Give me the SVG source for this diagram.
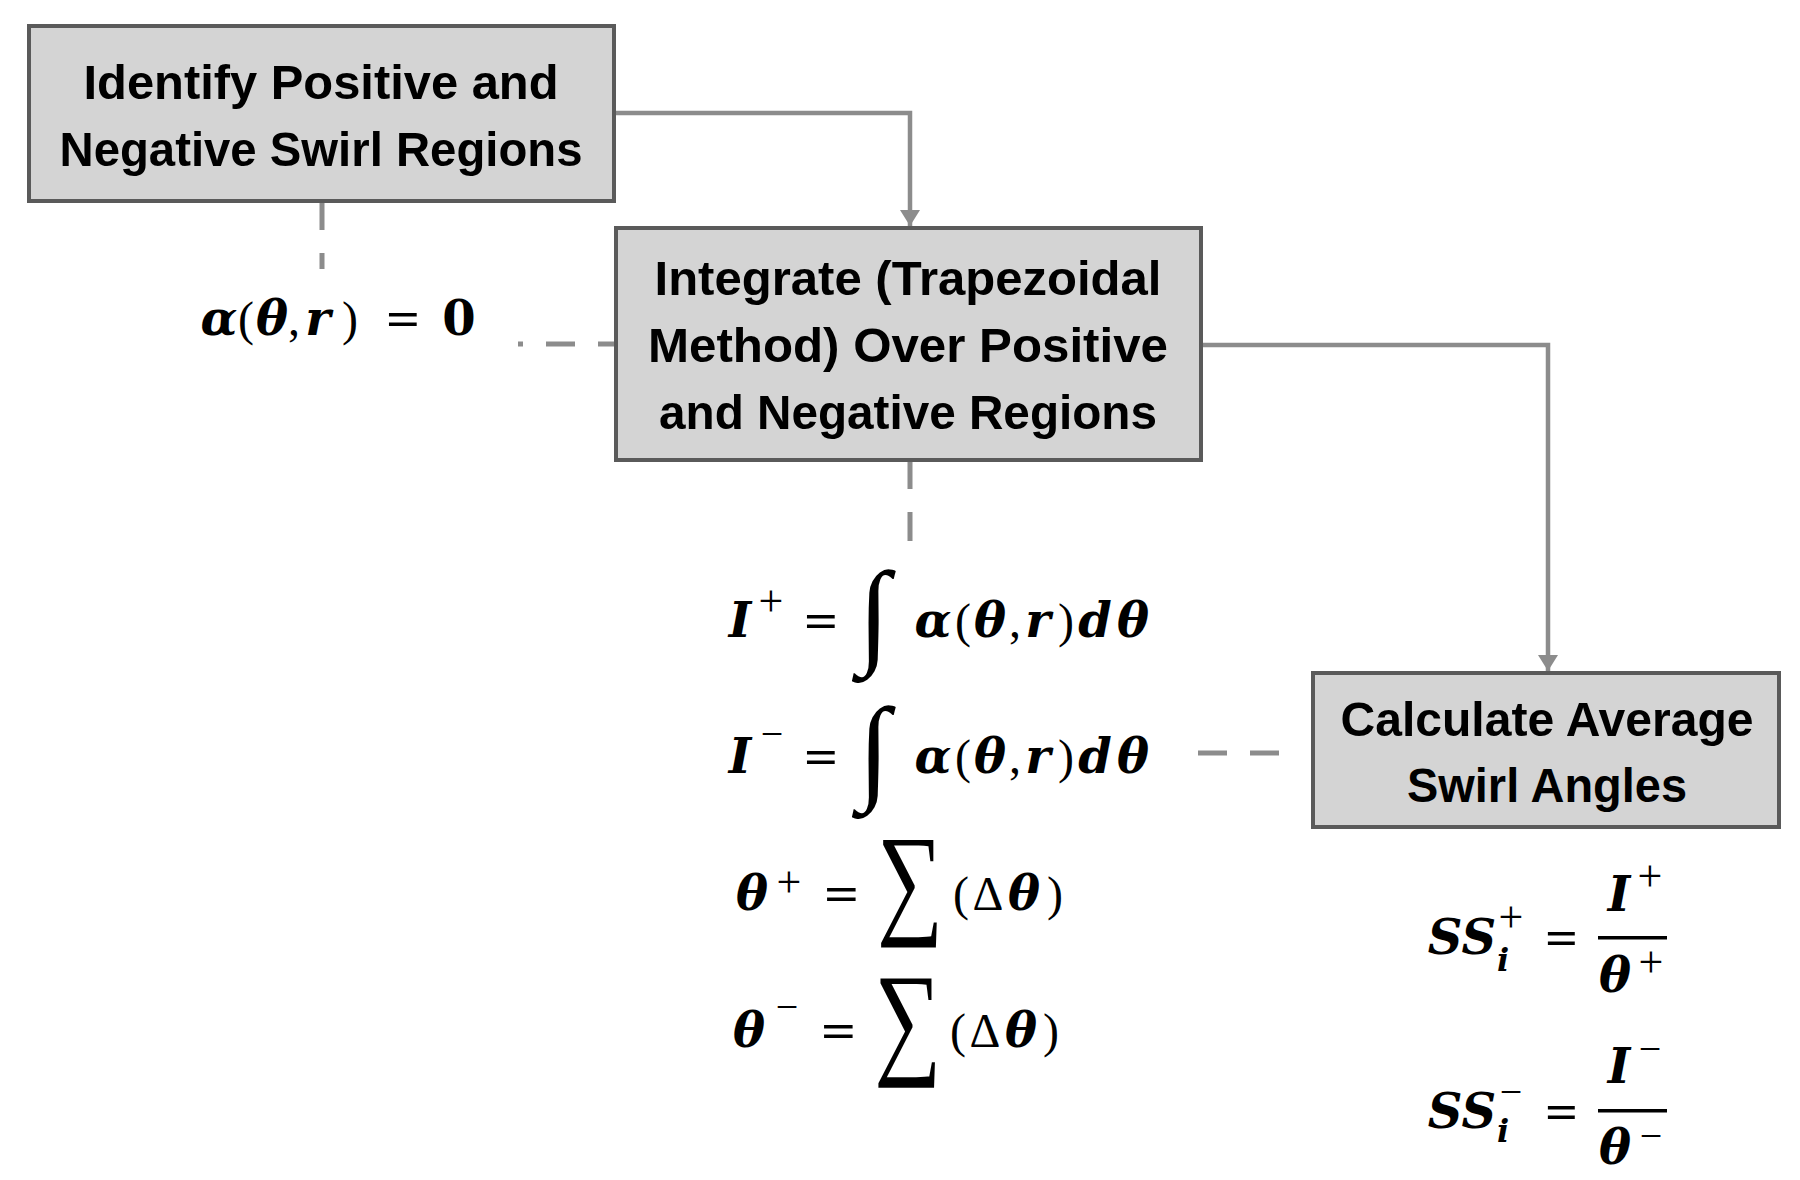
<svg xmlns="http://www.w3.org/2000/svg" width="1800" height="1180" viewBox="0 0 1800 1180">
<defs>
<style>
.box{fill:#d4d4d4;stroke:#5a5a5a;stroke-width:4}
.lbl{font-family:"Liberation Sans Narrow","Liberation Sans",Arial,sans-serif;font-weight:bold;font-size:49px;fill:#000;text-anchor:middle}
.conn{stroke:#8c8c8c;stroke-width:4.5;fill:none}
.dash{stroke:#8c8c8c;stroke-width:5;fill:none;stroke-dasharray:29 23}
.m{font-family:"DejaVu Serif","Liberation Serif",serif;font-weight:bold;font-style:italic;font-size:48px;fill:#000;text-anchor:middle}
.r{font-family:"Liberation Serif","DejaVu Serif",serif;font-style:normal;font-weight:normal}
.b{font-family:"DejaVu Serif","Liberation Serif",serif;font-style:normal;font-weight:bold}
.sp{font-family:"Liberation Serif","DejaVu Serif",serif;font-style:normal;font-weight:normal;font-size:44px}
.sm{font-family:"Liberation Serif","DejaVu Serif",serif;font-style:normal;font-weight:normal;font-size:40px}
.sub{font-size:32px}
.op{font-family:"Liberation Serif","DejaVu Serif",serif;font-style:normal;font-weight:normal;fill:#000}
.eq{font-family:"Liberation Serif","DejaVu Serif",serif;font-style:normal;font-weight:bold;fill:#000;font-size:48px}
</style>
<marker id="ah" viewBox="0 0 16 20" refX="16" refY="10" markerWidth="16" markerHeight="20" markerUnits="userSpaceOnUse" orient="auto">
<path d="M0,0 L16,10 L0,20 z" fill="#8c8c8c"/>
</marker>
</defs>
<rect width="1800" height="1180" fill="#fff"/>

<g id="connectors">
<path class="conn" d="M614,113 H910 V226" marker-end="url(#ah)"/>
<path class="conn" d="M1201,345 H1548 V671" marker-end="url(#ah)"/>
<path class="dash" d="M322,201 V269"/>
<path class="dash" d="M616,344 H518" style="stroke-dashoffset:11"/>
<path class="dash" d="M910,460 V542"/>
<path class="dash" d="M1198,753 H1281"/>
</g>

<g id="node-identify">
<rect class="box" x="29" y="26" width="585" height="175"/>
<text class="lbl" x="321" y="99" textLength="475" lengthAdjust="spacingAndGlyphs">Identify Positive and</text>
<text class="lbl" x="321" y="166" textLength="523" lengthAdjust="spacingAndGlyphs">Negative Swirl Regions</text>
</g>

<g id="node-integrate">
<rect class="box" x="616" y="228" width="585" height="232"/>
<text class="lbl" x="908" y="295" textLength="507" lengthAdjust="spacingAndGlyphs">Integrate (Trapezoidal</text>
<text class="lbl" x="908" y="362" textLength="520" lengthAdjust="spacingAndGlyphs">Method) Over Positive</text>
<text class="lbl" x="908" y="429" textLength="498" lengthAdjust="spacingAndGlyphs">and Negative Regions</text>
</g>

<g id="node-calculate">
<rect class="box" x="1313" y="673" width="466" height="154"/>
<text class="lbl" x="1547" y="736" textLength="413" lengthAdjust="spacingAndGlyphs">Calculate Average</text>
<text class="lbl" x="1547" y="802" textLength="280" lengthAdjust="spacingAndGlyphs">Swirl Angles</text>
</g>

<g id="eq-alpha">
<text class="m" y="335" font-size="46"><tspan x="219">α</tspan><tspan class="r" x="246">(</tspan><tspan x="272">θ</tspan><tspan class="r" x="294">,</tspan><tspan x="318">r</tspan><tspan class="r" x="350">)</tspan></text>
<text class="eq" x="386" y="335" font-size="46" textLength="34" lengthAdjust="spacingAndGlyphs">=</text>
<text class="m b" x="459" y="335" font-size="46">0</text>
</g>

<g id="eq-iplus">
<text class="m" y="637"><tspan x="740">I</tspan><tspan class="sp" x="771" y="616">+</tspan></text>
<text class="eq" x="804" y="637" textLength="34" lengthAdjust="spacingAndGlyphs">=</text>
<text class="op" x="858" y="652" font-size="116">∫</text>
<text class="m" y="637"><tspan x="933">α</tspan><tspan class="r" x="963">(</tspan><tspan x="990">θ</tspan><tspan class="r" x="1015">,</tspan><tspan x="1038">r</tspan><tspan class="r" x="1066">)</tspan><tspan x="1095">d</tspan><tspan x="1133">θ</tspan></text>
</g>

<g id="eq-iminus">
<text class="m" y="773"><tspan x="740">I</tspan><tspan class="sm" x="772" y="747">−</tspan></text>
<text class="eq" x="804" y="773" textLength="34" lengthAdjust="spacingAndGlyphs">=</text>
<text class="op" x="858" y="788" font-size="116">∫</text>
<text class="m" y="773"><tspan x="933">α</tspan><tspan class="r" x="963">(</tspan><tspan x="990">θ</tspan><tspan class="r" x="1015">,</tspan><tspan x="1038">r</tspan><tspan class="r" x="1066">)</tspan><tspan x="1095">d</tspan><tspan x="1133">θ</tspan></text>
</g>

<g id="eq-thetaplus">
<text class="m" y="910"><tspan x="752">θ</tspan><tspan class="sp" x="789" y="897">+</tspan></text>
<text class="eq" x="824" y="910" textLength="35" lengthAdjust="spacingAndGlyphs">=</text>
<text class="op" transform="translate(877,921) scale(0.75,1)" font-size="124">∑</text>
<text class="m" y="910"><tspan class="r" x="961">(</tspan><tspan class="r" x="988">Δ</tspan><tspan x="1024">θ</tspan><tspan class="r" x="1055">)</tspan></text>
</g>

<g id="eq-thetaminus">
<text class="m" y="1047"><tspan x="749">θ</tspan><tspan class="sm" x="787" y="1020">−</tspan></text>
<text class="eq" x="821" y="1047" textLength="35" lengthAdjust="spacingAndGlyphs">=</text>
<text class="op" transform="translate(874,1061) scale(0.75,1)" font-size="126">∑</text>
<text class="m" y="1047"><tspan class="r" x="958">(</tspan><tspan class="r" x="985">Δ</tspan><tspan x="1021">θ</tspan><tspan class="r" x="1051">)</tspan></text>
</g>

<g id="eq-ssplus">
<text class="m" y="954"><tspan x="1462">SS</tspan><tspan class="sub" x="1503" y="971">i</tspan><tspan class="sp" x="1511" y="932">+</tspan></text>
<text class="eq" x="1545" y="954" textLength="33" lengthAdjust="spacingAndGlyphs">=</text>
<rect x="1598" y="936" width="69" height="3.5" fill="#000"/>
<text class="m" y="911"><tspan x="1619">I</tspan><tspan class="sp" x="1650" y="891">+</tspan></text>
<text class="m" y="992"><tspan x="1615">θ</tspan><tspan class="sp" x="1651" y="977">+</tspan></text>
</g>

<g id="eq-ssminus">
<text class="m" y="1128"><tspan x="1462">SS</tspan><tspan class="sub" x="1503" y="1142">i</tspan><tspan class="sm" x="1511" y="1105">−</tspan></text>
<text class="eq" x="1545" y="1128" textLength="33" lengthAdjust="spacingAndGlyphs">=</text>
<rect x="1598" y="1109" width="69" height="3.5" fill="#000"/>
<text class="m" y="1083"><tspan x="1619">I</tspan><tspan class="sm" x="1650" y="1062">−</tspan></text>
<text class="m" y="1164"><tspan x="1615">θ</tspan><tspan class="sm" x="1651" y="1149">−</tspan></text>
</g>
</svg>
